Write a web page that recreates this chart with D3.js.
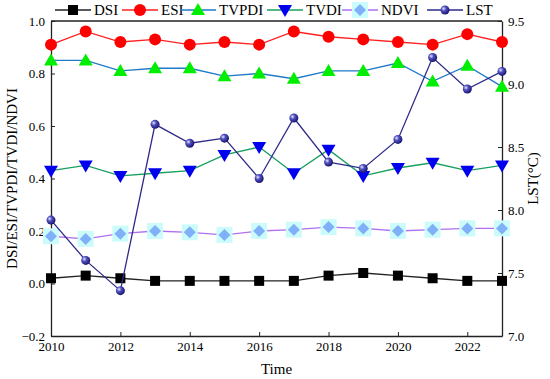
<!DOCTYPE html>
<html>
<head>
<meta charset="utf-8">
<script src="https://cdn.jsdelivr.net/npm/d3@7"></script>
<style>
    body { margin: 0; background: #fff; }
    svg text { font-family: "Liberation Serif", "Times New Roman", serif; }
</style>
</head>
<body>
<svg id="chart" width="550" height="379"></svg>
<script>
// Data
const years = [2010, 2011, 2012, 2013, 2014, 2015, 2016, 2017, 2018, 2019, 2020, 2021, 2022, 2023];
const dsi   = [0.02, 0.03, 0.02, 0.01, 0.01, 0.01, 0.01, 0.01, 0.03, 0.04, 0.03, 0.02, 0.01, 0.01];
const esi   = [0.91, 0.96, 0.92, 0.93, 0.91, 0.92, 0.91, 0.96, 0.94, 0.93, 0.92, 0.91, 0.95, 0.92];
const tvpdi = [0.85, 0.85, 0.81, 0.82, 0.82, 0.79, 0.80, 0.78, 0.81, 0.81, 0.84, 0.77, 0.83, 0.75];
const tvdi  = [0.43, 0.45, 0.41, 0.42, 0.43, 0.49, 0.52, 0.42, 0.51, 0.41, 0.44, 0.46, 0.43, 0.45];
const ndvi  = [0.18, 0.17, 0.19, 0.20, 0.195, 0.185, 0.20, 0.205, 0.215, 0.21, 0.20, 0.205, 0.21, 0.21];
const lst   = [7.92, 7.60, 7.36, 8.68, 8.53, 8.57, 8.25, 8.73, 8.38, 8.33, 8.56, 9.21, 8.96, 9.10];

const leftTicks = [-0.2, 0.0, 0.2, 0.4, 0.6, 0.8, 1.0];
const rightTicks = [7.0, 7.5, 8.0, 8.5, 9.0, 9.5];
const xTicks = [2010, 2012, 2014, 2016, 2018, 2020, 2022];

const svg = d3.select("#chart");
const margin = { top: 21, right: 48, bottom: 43, left: 51 };
const width = 550 - margin.left - margin.right;
const height = 379 - margin.top - margin.bottom;

const x = d3.scaleLinear().domain([2010, 2023]).range([margin.left, margin.left + width]);
const y = d3.scaleLinear().domain([-0.2, 1.0]).range([margin.top + height, margin.top]);
const y2 = d3.scaleLinear().domain([7.0, 9.5]).range([margin.top + height, margin.top]);

// Sphere gradient for LST markers
const defs = svg.append("defs");
const grad = defs.append("radialGradient").attr("id", "sphere")
    .attr("cx", "35%").attr("cy", "35%").attr("r", "65%");
grad.append("stop").attr("offset", "0%").attr("stop-color", "#e8e8ff");
grad.append("stop").attr("offset", "40%").attr("stop-color", "#5050c0");
grad.append("stop").attr("offset", "100%").attr("stop-color", "#1c1870");

// Axes (ticks inward)
const fmt = d => d3.format(".1f")(d).replace("-", "\u2212");
const xAxis = svg.append("g")
    .attr("transform", `translate(0,${margin.top + height})`)
    .call(d3.axisBottom(x).tickValues(xTicks).tickFormat(d3.format("d")).tickSizeInner(-4).tickSizeOuter(0).tickPadding(6));
const yAxis = svg.append("g")
    .attr("transform", `translate(${margin.left},0)`)
    .call(d3.axisLeft(y).tickValues(leftTicks).tickFormat(fmt).tickSizeInner(-4).tickSizeOuter(0).tickPadding(6));
const y2Axis = svg.append("g")
    .attr("transform", `translate(${margin.left + width},0)`)
    .call(d3.axisRight(y2).tickValues(rightTicks).tickFormat(d3.format(".1f")).tickSizeInner(-4).tickSizeOuter(0).tickPadding(6));

[xAxis, yAxis, y2Axis].forEach(a => {
    a.attr("font-family", null).attr("font-size", null);
    a.selectAll("text").attr("font-size", 13).attr("fill", "#000");
    a.selectAll("line").attr("stroke", "#222").attr("stroke-width", 1);
    a.select(".domain").attr("stroke", "#222").attr("stroke-width", 1.3);
});

// Top border
svg.append("line")
    .attr("x1", margin.left).attr("x2", margin.left + width)
    .attr("y1", margin.top).attr("y2", margin.top)
    .attr("stroke", "#222").attr("stroke-width", 1.3);

// Axis titles
svg.append("text")
    .attr("transform", `translate(17,${margin.top + height / 2}) rotate(-90)`)
    .attr("text-anchor", "middle").attr("font-size", 15).text("DSI/ESI/TVPDI/TVDI/NDVI");
svg.append("text")
    .attr("transform", `translate(538,${margin.top + height / 2}) rotate(-90)`)
    .attr("text-anchor", "middle").attr("font-size", 15).text("LST(\u00B0C)");
svg.append("text")
    .attr("x", margin.left + width / 2).attr("y", 374)
    .attr("text-anchor", "middle").attr("font-size", 15).text("Time");

// Marker drawing
function drawMarker(g, type, cx, cy) {
    if (type === "square") {
        g.append("rect").attr("x", cx - 5).attr("y", cy - 5).attr("width", 10).attr("height", 10).attr("fill", "#000");
    } else if (type === "circle") {
        g.append("circle").attr("cx", cx).attr("cy", cy).attr("r", 6).attr("fill", "#ff0000");
    } else if (type === "up") {
        g.append("path").attr("d", `M${cx},${cy - 7}L${cx + 7},${cy + 5}L${cx - 7},${cy + 5}Z`).attr("fill", "#00ee00");
    } else if (type === "down") {
        g.append("path").attr("d", `M${cx},${cy + 7}L${cx + 7},${cy - 5}L${cx - 7},${cy - 5}Z`).attr("fill", "#0000ee");
    } else if (type === "diamond") {
        g.append("rect").attr("x", cx - 8).attr("y", cy - 8).attr("width", 16).attr("height", 16).attr("fill", "#ccfbfb");
        g.append("path").attr("d", `M${cx},${cy - 6}L${cx + 6},${cy}L${cx},${cy + 6}L${cx - 6},${cy}Z`).attr("fill", "#7fb0f8");
    } else if (type === "sphere") {
        g.append("circle").attr("cx", cx).attr("cy", cy).attr("r", 4.5).attr("fill", "url(#sphere)");
    }
}

const series = [
    { name: "DSI", values: dsi, scale: y, line: "#222", marker: "square" },
    { name: "ESI", values: esi, scale: y, line: "#ff2020", marker: "circle" },
    { name: "TVPDI", values: tvpdi, scale: y, line: "#1f7ac8", marker: "up" },
    { name: "TVDI", values: tvdi, scale: y, line: "#18a060", marker: "down" },
    { name: "NDVI", values: ndvi, scale: y, line: "#b070f0", marker: "diamond" },
    { name: "LST", values: lst, scale: y2, line: "#2e2a88", marker: "sphere" }
];

series.forEach(s => {
    const lineGen = d3.line().x((d, i) => x(years[i])).y(d => s.scale(d));
    const g = svg.append("g");
    g.append("path").datum(s.values)
        .attr("d", lineGen)
        .attr("fill", "none")
        .attr("stroke", s.line)
        .attr("stroke-width", 1.3);
    s.values.forEach((v, i) => drawMarker(g, s.marker, x(years[i]), s.scale(v)));
});

// Legend
const legendX = [55, 122, 180, 267, 342, 427];
const legend = svg.append("g");
series.forEach((s, i) => {
    const lx = legendX[i];
    const ly = 10;
    legend.append("line")
        .attr("x1", lx).attr("x2", lx + 36).attr("y1", ly).attr("y2", ly)
        .attr("stroke", s.line).attr("stroke-width", 1.3);
    drawMarker(legend, s.marker, lx + 18, ly);
    legend.append("text")
        .attr("x", lx + 39).attr("y", ly + 5)
        .attr("font-size", 15).text(s.name);
});
</script>
</body>
</html>
